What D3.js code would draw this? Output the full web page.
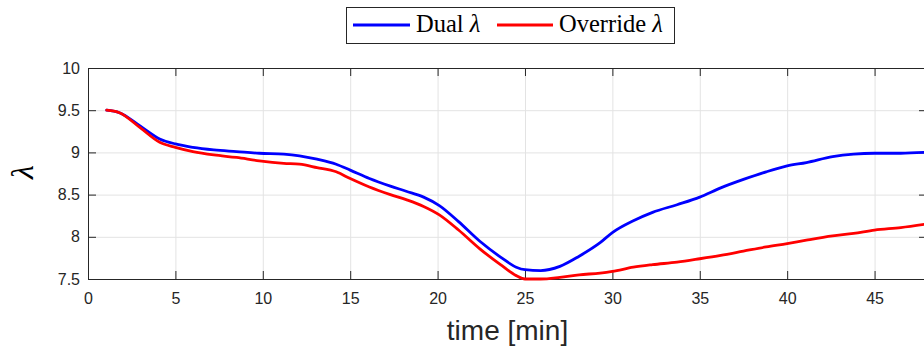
<!DOCTYPE html>
<html>
<head>
<meta charset="utf-8">
<script src="https://cdn.jsdelivr.net/npm/d3@7"></script>
<style>
  body { margin: 0; background: #fff; }
  svg { display: block; }
</style>
</head>
<body>
<div id="chart"></div>
<script>
// time samples [min] shared by both curves
const time = [1.07, 1.8, 3.0, 4.1, 5.0, 6.0, 7.2, 8.5, 9.8, 11.2, 12.1, 13.1, 14.2, 15.0,
  16.1, 17.3, 18.2, 19.2, 20.1, 21.2, 22.4, 23.6, 24.5, 25.0, 25.9, 27.0, 28.1, 29.3,
  30.0, 31.2, 32.3, 33.7, 35.0, 36.2, 37.5, 38.8, 40.0, 41.1, 42.6, 43.8, 45.0, 46.5, 47.9];

const dualLambda = [9.50, 9.47, 9.31, 9.16, 9.10, 9.06, 9.03, 9.01, 8.99, 8.98, 8.96, 8.92, 8.86, 8.79,
  8.69, 8.60, 8.54, 8.47, 8.37, 8.18, 7.95, 7.76, 7.64, 7.61, 7.60, 7.65, 7.77, 7.93,
  8.05, 8.19, 8.29, 8.38, 8.47, 8.58, 8.68, 8.77, 8.84, 8.88, 8.95, 8.98, 8.99, 8.99, 9.00];

const overrideLambda = [9.50, 9.47, 9.29, 9.12, 9.06, 9.01, 8.97, 8.94, 8.90, 8.87, 8.86, 8.82, 8.77, 8.69,
  8.59, 8.50, 8.44, 8.36, 8.26, 8.08, 7.86, 7.67, 7.54, 7.50, 7.50, 7.52, 7.55, 7.57,
  7.59, 7.64, 7.67, 7.70, 7.74, 7.78, 7.83, 7.88, 7.92, 7.96, 8.01, 8.04, 8.08, 8.11, 8.15];

const xTicks = [0, 5, 10, 15, 20, 25, 30, 35, 40, 45];
const yTicks = [7.5, 8, 8.5, 9, 9.5, 10];

const seriesNames = ["Dual", "Override"];
const seriesColors = ["#0000ff", "#ff0000"];

const width = 924, height = 346;
const plotLeft = 88, plotRight = 927, plotTop = 68, plotBottom = 279;
const axisColor = "#262626";
const gridColor = "#e3e3e3";

const svg = d3.select("#chart").append("svg")
  .attr("width", width)
  .attr("height", height);

const x = d3.scaleLinear().domain([0, 48]).range([plotLeft, plotRight]);
const y = d3.scaleLinear().domain([7.5, 10]).range([plotBottom, plotTop]);

// grid
svg.append("g")
  .attr("transform", "translate(0," + plotBottom + ")")
  .call(d3.axisBottom(x).tickValues(xTicks).tickSize(-(plotBottom - plotTop)).tickFormat(""))
  .call(g => g.select(".domain").remove())
  .selectAll("line").attr("stroke", gridColor);

svg.append("g")
  .attr("transform", "translate(" + plotLeft + ",0)")
  .call(d3.axisLeft(y).tickValues(yTicks).tickSize(-(plotRight - plotLeft)).tickFormat(""))
  .call(g => g.select(".domain").remove())
  .selectAll("line").attr("stroke", gridColor);

// axes (ticks pointing inward, box on)
const tickFont = "'Liberation Sans', Arial, sans-serif";

const xAxis = svg.append("g")
  .attr("transform", "translate(0," + plotBottom + ")")
  .call(d3.axisBottom(x).tickValues(xTicks).tickSizeInner(-8).tickSizeOuter(0).tickPadding(14));

const xTop = svg.append("g")
  .attr("transform", "translate(0," + plotTop + ")")
  .call(d3.axisTop(x).tickValues(xTicks).tickSizeInner(-8).tickSizeOuter(0).tickFormat(""));

const yAxis = svg.append("g")
  .attr("transform", "translate(" + plotLeft + ",0)")
  .call(d3.axisLeft(y).tickValues(yTicks).tickSizeInner(-8).tickSizeOuter(0).tickPadding(8)
    .tickFormat(d => String(d)));

const yRight = svg.append("g")
  .attr("transform", "translate(" + plotRight + ",0)")
  .call(d3.axisRight(y).tickValues(yTicks).tickSizeInner(-8).tickSizeOuter(0).tickFormat(""));

[xAxis, xTop, yAxis, yRight].forEach(g => {
  g.select(".domain").attr("stroke", axisColor);
  g.selectAll(".tick line").attr("stroke", axisColor);
  g.selectAll(".tick text")
    .attr("fill", axisColor)
    .style("font-family", tickFont)
    .style("font-size", "16px");
});

// curves
const line = d3.line()
  .x(d => x(d[0]))
  .y(d => y(d[1]))
  .curve(d3.curveMonotoneX);

[dualLambda, overrideLambda].forEach((vals, i) => {
  svg.append("path")
    .datum(time.map((t, j) => [t, vals[j]]))
    .attr("fill", "none")
    .attr("stroke", seriesColors[i])
    .attr("stroke-width", 2.8)
    .attr("stroke-linejoin", "round")
    .attr("stroke-linecap", "round")
    .attr("d", line);
});

// axis labels
svg.append("text")
  .attr("x", (plotLeft + plotRight) / 2)
  .attr("y", 340)
  .attr("text-anchor", "middle")
  .attr("fill", axisColor)
  .style("font-family", tickFont)
  .style("font-size", "28px")
  .text("time [min]");

svg.append("text")
  .attr("transform", "translate(33,172) rotate(-90)")
  .attr("text-anchor", "middle")
  .attr("fill", "#000")
  .style("font-family", "'Liberation Serif', serif")
  .style("font-style", "italic")
  .style("font-size", "32px")
  .text("λ");

// legend
const legend = svg.append("g");
legend.append("rect")
  .attr("x", 346.5).attr("y", 7.5)
  .attr("width", 328).attr("height", 36)
  .attr("fill", "#fff")
  .attr("stroke", axisColor)
  .attr("stroke-width", 1);

const legendItems = [
  {x1: 353, x2: 410, tx: 416},
  {x1: 497, x2: 553, tx: 559}
];

legendItems.forEach((it, i) => {
  legend.append("line")
    .attr("x1", it.x1).attr("x2", it.x2)
    .attr("y1", 25).attr("y2", 25)
    .attr("stroke", seriesColors[i])
    .attr("stroke-width", 2.8);
  const t = legend.append("text")
    .attr("x", it.tx).attr("y", 32)
    .attr("fill", "#000")
    .style("font-family", "'Liberation Serif', serif")
    .style("font-size", "24.5px");
  t.append("tspan").text(seriesNames[i] + " ");
  t.append("tspan").style("font-style", "italic").text("λ");
});
</script>
</body>
</html>
